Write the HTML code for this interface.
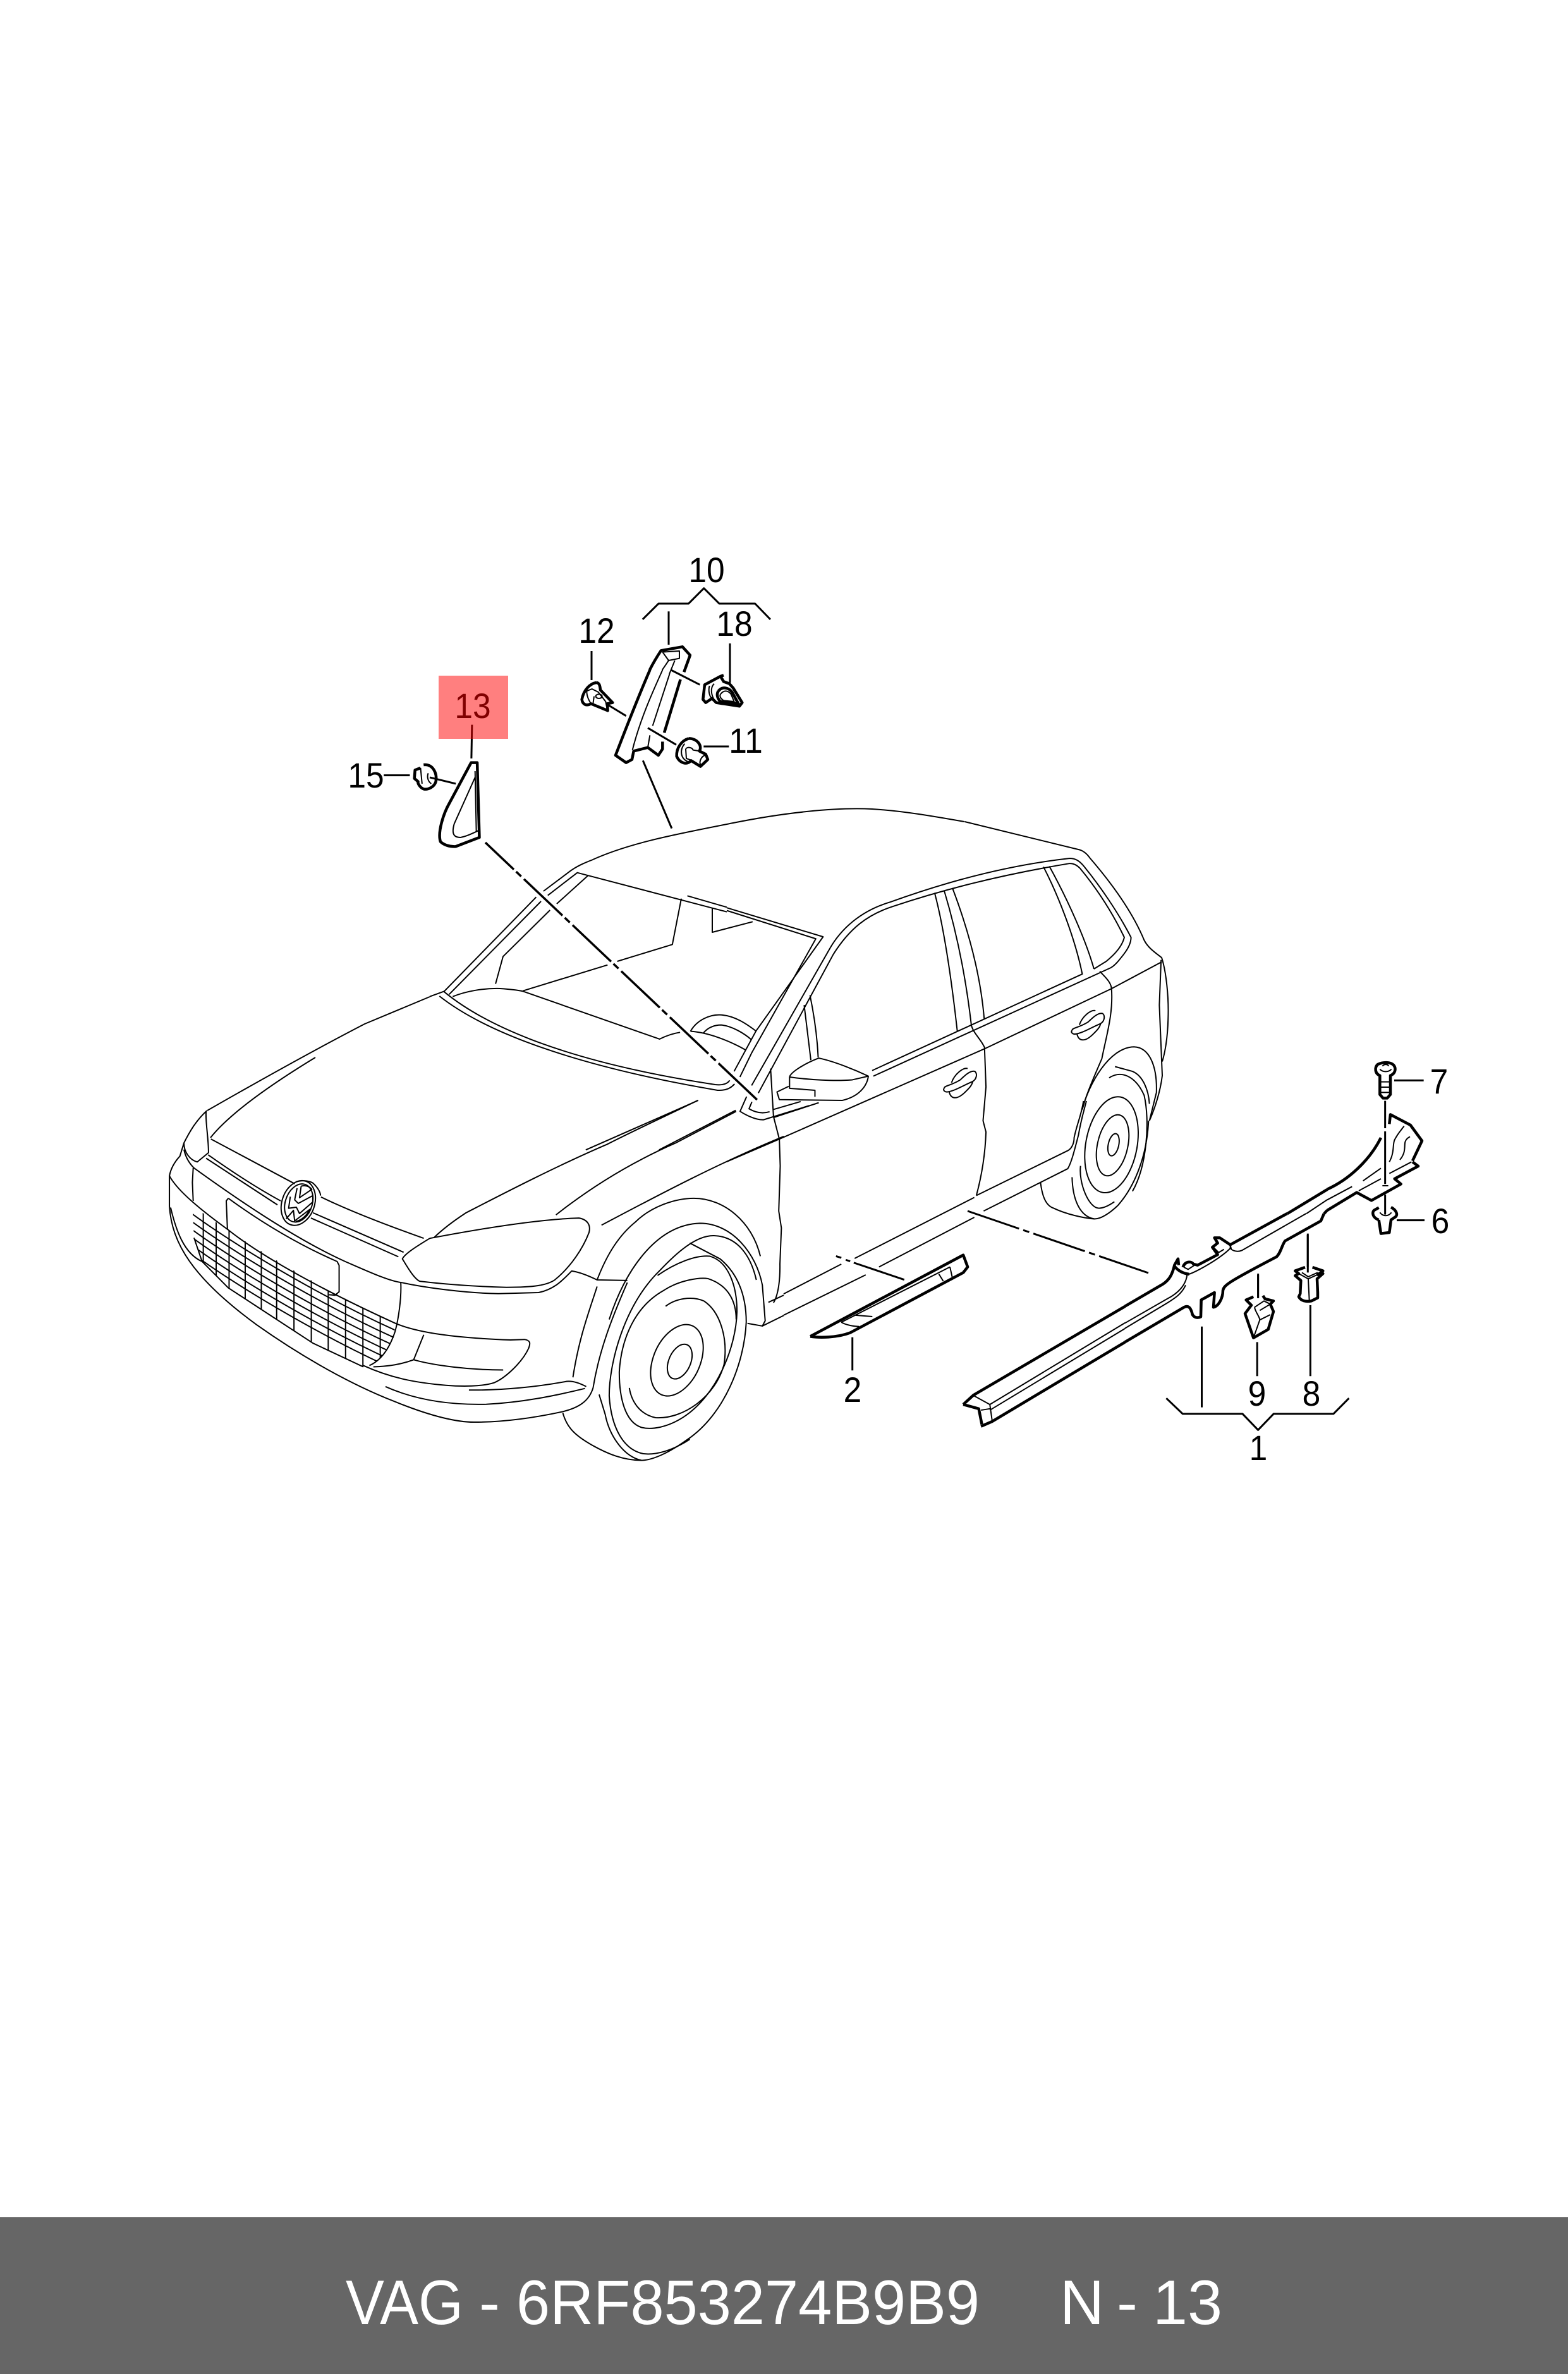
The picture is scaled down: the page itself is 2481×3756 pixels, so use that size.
<!DOCTYPE html>
<html><head><meta charset="utf-8"><style>
html,body{margin:0;padding:0;background:#fff}
svg{display:block}
path,ellipse,circle{fill:none;stroke:#000;vector-effect:non-scaling-stroke;stroke-linejoin:round;stroke-linecap:butt}
.t path,.t ellipse{stroke-width:2}
.k path,.k ellipse{stroke-width:4.5}
.l path{stroke-width:3}
text{font-family:"Liberation Sans",sans-serif}
.n{font-size:56px;fill:#000;text-anchor:middle}
</style></head><body>
<svg xmlns="http://www.w3.org/2000/svg" width="2481" height="3756" viewBox="0 0 2481 3756">
<rect width="2481" height="3756" fill="#fff"/>

<!-- roof and hood top (absolute) -->
<g class="t">
<path d="M938,1360 C1000,1332 1080,1318 1160,1302 C1240,1286 1320,1277 1380,1280 C1430,1283 1480,1292 1526,1300"/>
<path d="M680,1577 L577,1620 C490,1665 410,1710 328,1757"/>
<path d="M499,1673 C430,1715 365,1760 333,1800"/>
</g>

<!-- windshield (Z7) -->
<g class="t" transform="matrix(.3827,0,0,.3333,680,1360)">
<path d="M0,650 L60,625 L440,178 M470,150 L580,55 C610,30 640,15 675,0"/>
<path d="M80,640 L460,198 M488,170 L610,62 L1228,248"/>
<path d="M1065,172 L1228,226"/>
<path d="M525,210 L655,75 M497,240 L303,460 L272,590"/>
<path d="M1040,185 L1003,403 L775,483 M735,500 L385,623"/>
<path d="M1168,228 L1168,345 L1335,295"/>
<path d="M95,650 C150,625 220,610 290,612 C330,615 365,620 385,625 L950,852 C980,835 1005,825 1035,820"/>
<path d="M60,628 C200,760 500,950 1180,1068 C1210,1072 1230,1065 1240,1048"/>
<path d="M40,648 C230,820 600,980 1190,1095 C1225,1097 1245,1085 1260,1065"/>
<path d="M1078,815 C1105,760 1160,735 1200,737 C1260,740 1310,780 1350,815"/>
<path d="M1130,825 C1150,795 1180,785 1205,785 C1250,790 1300,825 1330,855"/>
<path d="M1078,815 C1150,820 1240,860 1308,905"/>
<path d="M1310,1125 L1283,1195 C1310,1215 1350,1237 1380,1235 L1568,1168"/>
<path d="M1332,1150 L1320,1183 C1345,1200 1375,1207 1405,1197"/>
<path d="M645,1378 L1110,1143 M948,1378 L1265,1190"/>
</g>

<!-- side and rear (Z6) -->
<g class="t" transform="matrix(.4618,0,0,.4464,1150,1300)">
<path d="M815,0 L1210,100 C1225,105 1235,115 1245,130 C1320,220 1390,320 1430,420 C1445,450 1470,465 1490,482 C1505,530 1515,620 1512,700 C1510,780 1498,830 1492,850"/>
<path d="M1488,490 L1482,650 L1490,850 L1492,900 C1485,960 1465,1020 1448,1060"/>
<path d="M25,885 L100,742 L330,408 L0,305"/>
<path d="M45,905 L85,820 L305,415 L0,315"/>
<path d="M85,935 L350,455 C390,380 460,315 560,285 C800,195 1000,150 1175,130 C1195,130 1210,140 1225,160 C1280,230 1340,320 1385,410 C1385,430 1375,450 1360,470 C1345,490 1330,510 1315,518"/>
<path d="M108,962 L365,470 C420,380 480,330 570,300 C700,255 900,195 1175,148 C1190,148 1200,155 1210,165 C1270,240 1320,320 1362,410 C1355,440 1330,470 1300,495 L1258,522"/>
<path d="M498,882 L1218,540 C1190,400 1130,250 1085,160"/>
<path d="M502,902 L1315,518"/>
<path d="M1105,158 C1170,280 1230,420 1258,522"/>
<path d="M712,252 C745,380 770,560 790,745"/>
<path d="M745,245 C790,400 820,560 838,722"/>
<path d="M773,235 C830,390 870,550 882,700"/>
<path d="M838,722 C845,750 870,770 883,800 L888,940 L878,1060 L888,1100 C885,1190 872,1260 855,1325"/>
<path d="M1278,530 C1290,545 1315,565 1318,590 C1325,680 1300,760 1285,840 C1260,900 1230,970 1218,1020"/>
<path d="M150,875 L160,1045 L180,1125 L183,1220 L178,1380 L187,1440 L182,1568 C183,1630 175,1680 160,1705"/>
<path d="M0,1205 L180,1125 L883,805 L1318,592 L1490,497"/>
<path d="M265,650 L288,845 M285,615 C300,690 310,770 313,835"/>
<path d="M215,905 C218,890 260,860 315,838 C370,850 440,880 485,902 C480,940 450,975 395,988 L180,985 L172,958 L212,938"/>
<path d="M215,905 L215,945 L302,952 L302,975 M215,905 C280,915 370,920 430,915 L485,902"/>
<path d="M160,1020 L253,992 M162,1048 L315,996"/>
<path d="M745,945 C745,935 770,935 800,915 C815,900 835,880 850,885 C860,895 855,915 840,922 C810,935 780,955 755,958 C745,958 740,950 745,945"/>
<path d="M762,958 C768,985 790,985 815,960 C830,945 840,935 843,920 M770,925 C780,895 810,870 825,875"/>
<g transform="translate(438,-205)">
<path d="M745,945 C745,935 770,935 800,915 C815,900 835,880 850,885 C860,895 855,915 840,922 C810,935 780,955 755,958 C745,958 740,950 745,945"/>
<path d="M762,958 C768,985 790,985 815,960 C830,945 840,935 843,920 M770,925 C780,895 810,870 825,875"/>
</g>
<path d="M855,1325 L1170,1165 C1185,1155 1190,1135 1190,1120 C1200,1070 1215,1040 1222,990"/>
<path d="M880,1380 L1168,1230 C1180,1210 1190,1170 1205,1110 C1215,1050 1225,1020 1232,990"/>
<path d="M1075,1280 C1080,1320 1090,1360 1120,1370 C1160,1390 1220,1405 1260,1408 C1280,1408 1310,1390 1340,1360 C1400,1290 1440,1180 1445,1060"/>
<ellipse cx="1325" cy="1145" rx="18" ry="40" transform="rotate(12 1325 1145)"/>
<ellipse cx="1322" cy="1147" rx="52" ry="110" transform="rotate(12 1322 1147)"/>
<ellipse cx="1318" cy="1145" rx="88" ry="172" transform="rotate(10 1318 1145)"/>
<path d="M1310,908 C1350,880 1400,900 1430,970 C1450,1060 1440,1220 1390,1310"/>
<path d="M1212,1220 C1205,1280 1240,1370 1275,1370 C1290,1370 1310,1360 1328,1347"/>
<path d="M1183,1260 C1185,1340 1210,1400 1260,1408"/>
<path d="M1218,1020 C1240,930 1310,800 1395,798 C1450,800 1475,870 1472,960 L1448,1060"/>
<path d="M1330,868 L1390,885 C1425,900 1445,950 1448,1000"/>
</g>

<!-- front (Z4) -->
<g class="t" transform="matrix(.6378,0,0,.4167,240,1700)">
<clipPath id="gr"><path d="M101,497 C200,610 400,800 605,945 L600,1000 L570,1075 L540,1105 L525,1110 L400,1020 L270,890 L190,810 L125,710 L105,620 Z"/></clipPath>
<path d="M137,137 C110,175 95,215 80,260"/>
<path d="M135,140 C133,180 141,240 141,297 L113,332 C95,325 80,295 80,260"/>
<path d="M80,260 L70,310 C55,335 47,360 44,385 L44,500 C50,640 100,770 260,950 C380,1080 500,1180 600,1240 C680,1290 750,1320 800,1320 C880,1320 960,1300 1020,1280 C1060,1265 1085,1240 1095,1190 C1110,1050 1140,930 1180,790"/>
<path d="M147,245 L355,415 M420,465 C480,510 570,565 675,622"/>
<path d="M140,305 C200,370 260,430 320,480 M135,318 L312,495 M400,525 L625,675 M395,545 L612,692"/>
<path d="M80,285 C85,320 95,340 105,355 C200,460 350,620 480,710 C540,750 590,785 620,790 C680,810 780,830 860,832 L960,828 C1000,815 1020,780 1042,746 C1060,750 1085,765 1105,780 L1180,782"/>
<path d="M190,470 L185,480 L188,590 M190,470 C280,570 370,650 460,710 L465,725 L465,825 L455,838 L440,836"/>
<path d="M103,355 L101,410 L103,480"/>
<path d="M44,385 C60,430 100,490 190,590 C280,700 440,830 605,945 C660,980 750,1000 890,1008 L925,1006 C940,1010 940,1020 935,1040 C920,1090 880,1150 850,1170 C820,1185 770,1185 730,1180 C650,1170 590,1150 525,1105"/>
<path d="M618,790 C620,850 612,930 604,975 C590,1040 570,1085 540,1105"/>
<path d="M47,505 C60,590 80,680 125,710"/>
<path d="M105,620 L125,710 L190,810 L270,890 L400,1020 L525,1110"/>
<g clip-path="url(#gr)">
<path d="M101,530 C200,640 400,830 610,975"/>
<path d="M101,560 C200,670 400,860 610,1005"/>
<path d="M101,590 C200,700 400,890 610,1035"/>
<path d="M101,620 C200,730 400,920 610,1065"/>
<path d="M101,650 C200,760 400,950 610,1095"/>
<path d="M101,680 C200,790 400,980 610,1125"/>
<path d="M128,500 V800 M160,500 V850 M192,500 V850 M232,600 V900 M272,650 V950 M310,700 V1000 M353,740 V1050 M396,780 V1080 M438,820 V1120 M481,850 V1150 M524,880 V1150 M567,900 V1150"/>
</g>
<path d="M550,1110 C590,1108 620,1100 650,1083 L675,988 M650,1083 C700,1105 790,1122 872,1122"/>
<path d="M580,1185 C660,1240 750,1255 830,1252 C920,1245 1000,1220 1075,1192 M1078,1185 C1060,1170 1045,1163 1030,1165 C960,1185 870,1200 787,1198"/>
<path d="M690,622 C800,590 950,550 1060,545 C1080,550 1090,570 1085,600 C1070,660 1040,730 1000,780 C980,800 950,808 880,808 C800,805 720,795 665,785 C650,775 630,720 622,700 C628,680 660,650 690,622"/>
<path d="M700,620 C720,590 750,555 780,525 C850,470 1000,350 1130,265 C1200,210 1300,140 1355,98"/>
<path d="M1003,533 C1080,440 1180,340 1300,260 L1450,140"/>
<path d="M1116,572 C1230,480 1400,340 1568,235"/>
<path d="M1045,1150 C1060,1000 1085,900 1105,805"/>
<path d="M1105,780 C1130,680 1160,610 1200,560 C1240,500 1300,470 1345,470 C1420,470 1490,560 1510,690"/>
<path d="M1135,930 C1180,720 1260,570 1360,565 C1440,565 1500,680 1515,800 L1522,935 L1515,955 L1478,945"/>
<path d="M1335,1385 C1290,1430 1250,1445 1220,1440 C1170,1425 1140,1340 1135,1220 C1135,1100 1170,880 1260,745 C1300,680 1350,610 1395,612 C1450,615 1485,680 1500,780"/>
<path d="M1335,640 L1410,700 C1450,750 1475,830 1475,940 C1470,1100 1420,1290 1330,1385 C1280,1440 1240,1465 1215,1465 C1170,1450 1135,1370 1125,1290 L1110,1215"/>
<path d="M1020,1285 C1030,1340 1050,1370 1090,1405 C1130,1440 1170,1465 1215,1465"/>
<ellipse cx="1310" cy="1090" rx="28" ry="67" transform="rotate(12 1310 1090)"/>
<ellipse cx="1303" cy="1085" rx="60" ry="138" transform="rotate(12 1303 1085)"/>
<path d="M1275,880 C1300,850 1340,840 1370,860 C1410,900 1430,1000 1420,1100 C1400,1220 1320,1310 1250,1303 C1210,1290 1190,1240 1185,1190"/>
<path d="M1255,763 C1300,715 1350,685 1385,690 C1430,710 1452,800 1452,900 C1450,1040 1400,1220 1320,1300 C1280,1340 1240,1350 1215,1340 C1175,1320 1160,1230 1160,1130 C1165,1000 1200,880 1270,820 C1310,780 1360,770 1380,775 C1430,800 1450,860 1450,930"/>
<path d="M1530,865 L1568,838 M1515,955 L1568,915"/>
</g>

<!-- badge (Z11) -->
<g class="t" transform="matrix(.3827,0,0,.3333,250,1620)">
<path d="M570,750 C590,742 620,742 640,755 C660,775 672,800 672,815"/>
<ellipse cx="580" cy="850" rx="68" ry="108" transform="rotate(14 580 850)"/>
<ellipse cx="582" cy="850" rx="56" ry="92" transform="rotate(14 582 850)"/>
<path d="M592,770 L585,825 L636,785 C625,770 610,765 592,770"/>
<path d="M575,780 L565,835 L580,852 L640,815 L640,845 L585,900 L572,870 L540,875 L547,820"/>
<path d="M530,925 L560,885 L565,935 L628,880 C612,915 590,932 570,938"/>
</g>

<!-- Z3: sill, left part of rocker, part 2, leaders -->
<g class="t" transform="matrix(.7015,0,0,.4487,1240,1650)">
<path d="M0,885 L130,780 M160,760 L430,545"/>
<path d="M0,960 L185,818 M215,790 L430,615"/>
<path d="M430,1245 L465,1275 L470,1330 M445,1295 L465,1290"/>
<path d="M465,1275 L770,987"/>
<path d="M465,1295 L770,1007"/>
<path d="M1179,602 L1226,553"/>
<path d="M130,985 L375,790 M130,985 C140,995 160,1000 170,1000 M160,960 L200,965 M350,815 L360,840 M375,790 L380,825"/>
</g>
<g class="k" transform="matrix(.7015,0,0,.4487,1240,1650)">
<path d="M405,1275 L428,1242 L770,929"/>
<path d="M1136,602 L1226,517"/>
<path d="M1219,602 L1226,590"/>
<path d="M770,1055 L470,1335 L445,1352"/>
<path d="M405,1275 L440,1290 L447,1345"/>
<path d="M60,1035 L405,748 L415,790 L405,810 L150,1022 C120,1040 80,1040 60,1035"/>
</g>
<g class="l" transform="matrix(.7015,0,0,.4487,1240,1650)">
<path d="M155,1038 L155,1155"/>
<path d="M943,1000 L943,1285"/>
<path d="M1070,818 L1070,900 M1068,1055 L1068,1175"/>
<path d="M1182,677 L1182,790 M1188,925 L1188,1175"/>
<path d="M863,1253 L900,1308 L1035,1308 L1070,1365 L1105,1308 L1240,1308 L1275,1253"/>
<path d="M118,752 L130,758 M140,765 L150,770 M158,775 L272,835"/>
</g>

<!-- Z9: rocker middle and clips 8, 9 -->
<g class="k" transform="matrix(.3333,0,0,.3333,1780,1920)">
<path d="M0,440 L180,335 C210,315 225,290 235,245 L252,215 L255,245"/>
<path d="M235,250 C255,275 280,285 305,288"/>
<path d="M275,255 C285,225 315,225 325,240 L345,245 L440,195 L415,160 L440,140 L425,115 L450,115 L500,148 L770,0"/>
<path d="M0,610 L280,445 C300,435 310,445 318,470 C320,490 340,500 360,490 L362,410 L425,375 L420,445 C445,440 465,400 465,365 C470,340 490,325 720,205 C740,185 745,150 760,130 L930,35 L945,0"/>
<path d="M855,255 L808,272 L825,285 L808,295 L835,318 L832,380 L825,395 C835,415 860,420 885,415 L915,400 L915,375 L912,310 L940,285 L915,290 L940,272 L890,255"/>
<path d="M655,390 L665,405 L705,415 L690,430 L705,465 L680,550 L610,590 L570,475 L600,435 L575,410 L610,395"/>
</g>
<g class="t" transform="matrix(.3333,0,0,.3333,1780,1920)">
<path d="M305,288 C350,270 450,215 500,165 L500,150 M500,150 L505,170 C520,180 540,182 555,175 L860,0"/>
<path d="M295,290 C290,340 250,380 200,405 L0,520"/>
<path d="M288,340 C270,380 240,400 200,425 L0,545"/>
<path d="M280,255 L300,265 L330,245 M420,160 L445,185 L470,170"/>
<path d="M825,285 L870,310 L925,285 M840,280 L870,300 L915,280 M870,310 L875,410"/>
<path d="M615,445 L660,415 L690,430 L640,460 M615,445 C620,470 640,490 640,505 L610,590 M640,505 L690,480"/>
</g>
<g class="l" transform="matrix(.3333,0,0,.3333,1780,1920)">
<path d="M868,95 L868,280"/>
<path d="M632,285 L632,400"/>
</g>

<!-- Z8: right end of rocker, clips 7, 6 -->
<g class="k" transform="matrix(.3333,0,0,.3333,2100,1660)">
<path d="M295,355 L300,310 L395,360 L450,435 L405,530"/>
<path d="M405,535 L432,555 L320,615 L350,640 L210,718 L140,680 L0,765"/>
<path d="M0,665 C100,620 200,530 255,420"/>
<path d="M250,125 C225,115 225,85 240,72 C265,60 300,60 315,75 C328,90 325,115 300,125 L300,215 L285,232 L265,232 L250,215 Z"/>
<path d="M245,810 C215,800 212,775 222,765 L245,752 M303,750 C330,765 335,785 325,795 L303,810 L295,870 L255,875 L245,810"/>
</g>
<g class="t" transform="matrix(.3333,0,0,.3333,2100,1660)">
<path d="M170,625 L255,565 M150,672 L255,615 M295,590 L400,535 M0,715 L118,652"/>
<path d="M262,648 L290,648"/>
<path d="M295,535 C320,490 310,450 320,430 C335,400 350,385 365,365"/>
<path d="M345,525 C375,490 365,460 370,440 C375,425 385,420 393,415"/>
<path d="M250,95 C265,110 290,110 305,95 M262,80 C272,70 285,70 292,80"/>
<path d="M252,155 L298,155 M252,180 L298,180 M252,205 L298,205"/>
<path d="M250,775 C265,795 290,795 305,775"/>
</g>
<g class="l" transform="matrix(.3333,0,0,.3333,2100,1660)">
<path d="M275,245 L275,375 M275,390 L275,640 M275,690 L275,785"/>
<path d="M318,148 L458,148 M330,812 L462,812"/>
</g>

<!-- Z2: upper parts -->
<g class="k" transform="matrix(.4847,0,0,.3333,520,860)">
<path d="M465,1040 L485,1040 L492,1395 L415,1438 C395,1440 375,1430 365,1415 C355,1370 375,1280 395,1230 Z"/>
<path d="M1160,610 L1180,530 L1155,490 L1085,508 C1075,530 1060,565 1048,600"/>
<path d="M310,1050 C340,1045 355,1090 350,1130 C345,1155 325,1170 310,1165 C300,1160 290,1140 292,1130 L280,1115 L282,1075 L300,1065"/>
</g>
<g class="t" transform="matrix(.4847,0,0,.3333,520,860)">
<path d="M478,1110 L410,1330 C400,1380 410,1395 430,1395 C450,1390 470,1375 490,1362"/>
<path d="M478,1080 L482,1365"/>
<path d="M1090,515 L1145,510 L1145,545 L1110,555 L1090,515"/>
<path d="M1110,555 L1089,600 M1130,555 L1112,620"/>
<path d="M325,1090 C320,1110 325,1130 335,1140"/>
<path d="M300,1065 L305,1140"/>
</g>
<g class="l" transform="matrix(.4847,0,0,.3333,520,860)">
<path d="M468,860 L466,1020"/>
<path d="M330,1110 L415,1140"/>
<path d="M180,1100 L265,1100"/>
<path d="M1110,322 L1110,480"/>
<path d="M1026,1030 L1120,1352"/>
<path d="M1025,360 L1077,285 L1175,285 L1225,212 L1275,285 L1392,285 L1442,360"/>
</g>

<!-- Z10: part 10 lower, clips 12, 18, 11 -->
<g class="k" transform="matrix(.3333,0,0,.3333,900,1060)">
<path d="M385,0 C320,150 270,280 222,405 L272,440 L300,425 L308,385 L375,368 L425,405 L445,375 L445,340"/>
<path d="M530,45 L453,298"/>
<path d="M130,60 C100,65 70,95 62,140 C65,165 85,172 105,160 L185,193 L183,160 L208,155 L150,95 C148,75 145,60 130,60"/>
<path d="M735,25 L720,30 L645,70 L637,140 L650,155 L680,135 L700,155 L810,172 L823,155 L780,85 L762,65 L735,55 L720,30"/>
<path d="M570,325 C535,335 510,370 512,410 C525,440 560,455 580,430 L625,458 L660,425 L650,400 L620,385 C635,360 610,325 570,325"/>
<path d="M710,100 C730,75 760,85 775,105 L805,160 L720,150 C705,135 700,115 710,100"/>
</g>
<g class="t" transform="matrix(.3333,0,0,.3333,900,1060)">
<path d="M478,20 L398,265"/>
<path d="M445,0 C400,100 340,230 302,380"/>
<path d="M385,310 L375,368"/>
<path d="M85,100 C85,130 100,150 105,160 M85,100 L110,90 L140,105 L175,150 L183,190 M120,125 L115,160"/>
<ellipse cx="143" cy="125" rx="15" ry="10"/>
<path d="M668,75 C660,100 670,130 680,135 M690,65 C670,85 675,120 695,150"/>
<path d="M720,115 C735,95 755,95 770,115 L785,150 L735,145 C720,135 715,125 720,115"/>
<path d="M550,350 C525,380 530,420 565,435 M555,375 C560,365 585,365 590,380 L620,385 L640,398 M555,375 L558,420 L590,432 L620,450"/>
<ellipse cx="640" cy="428" rx="14" ry="25" transform="rotate(30 640 428)"/>
</g>
<g class="l" transform="matrix(.3333,0,0,.3333,900,1060)">
<path d="M108,-90 L108,48"/>
<path d="M185,165 L272,218"/>
<path d="M765,-126 L765,60"/>
<path d="M485,0 L622,70"/>
<path d="M375,275 L510,355"/>
<path d="M640,363 L760,363"/>
</g>

<!-- dash-dot leaders -->
<path d="M768,1333 L1201,1743" style="stroke-width:3.5;stroke-dasharray:84 5 11 6;stroke-dashoffset:22"/>
<path d="M1531,1916 L1817,2014" style="stroke-width:3;stroke-dasharray:86 7 10 7"/>

<!-- labels -->
<text class="n" transform="translate(1118,921) scale(.92,1)">10</text>
<text class="n" transform="translate(944,1017) scale(.92,1)">12</text>
<text class="n" transform="translate(1162,1006) scale(.92,1)">18</text>
<text class="n" transform="translate(1180,1191) scale(.92,1)">11</text>
<text class="n" transform="translate(579,1246) scale(.92,1)">15</text>
<text class="n" transform="translate(748,1136) scale(.92,1)">13</text>
<text class="n" transform="translate(2277,1730) scale(.92,1)">7</text>
<text class="n" transform="translate(2279,1951) scale(.92,1)">6</text>
<text class="n" transform="translate(1349,2218) scale(.92,1)">2</text>
<text class="n" transform="translate(1989,2224) scale(.92,1)">9</text>
<text class="n" transform="translate(2075,2224) scale(.92,1)">8</text>
<text class="n" transform="translate(1991,2310) scale(.92,1)">1</text>

<rect x="694" y="1069" width="110" height="100" fill="#ff0000" fill-opacity=".5"/>

<rect x="0" y="3508" width="2481" height="248" fill="#666666"/>
<g font-size="99" fill="#fff">
<text x="547" y="3677" textLength="186" lengthAdjust="spacingAndGlyphs">VAG</text>
<text x="758" y="3677">-</text>
<text x="817" y="3677" textLength="733" lengthAdjust="spacingAndGlyphs">6RF853274B9B9</text>
<text x="1677" y="3677" textLength="70" lengthAdjust="spacingAndGlyphs">N</text>
<text x="1767" y="3677">-</text>
<text x="1824" y="3677" textLength="110" lengthAdjust="spacingAndGlyphs">13</text>
</g>
</svg>
</body></html>
